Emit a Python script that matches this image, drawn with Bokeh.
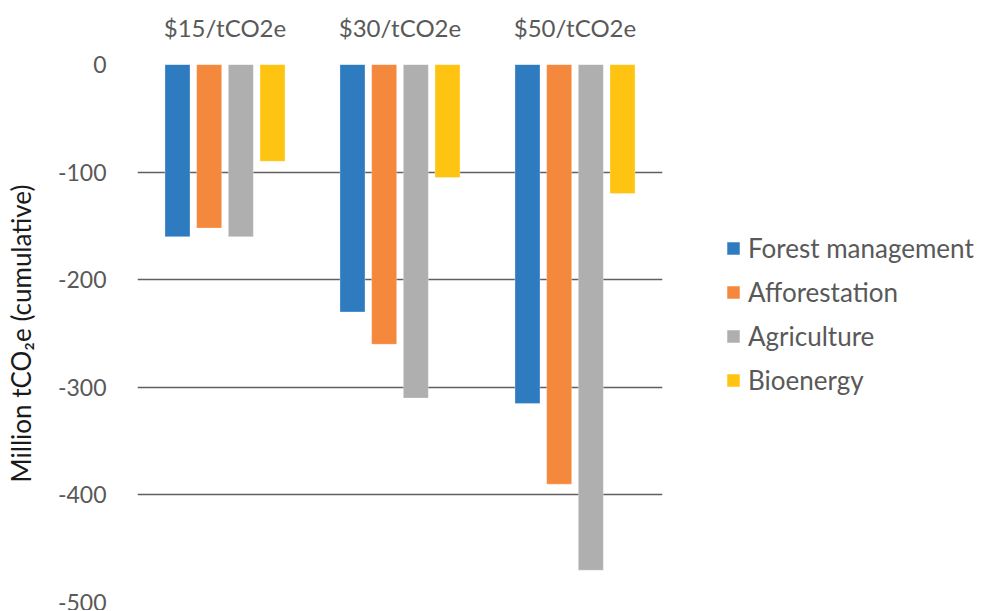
from bokeh.plotting import figure
from bokeh.models import Range1d, FactorRange, Legend, LegendItem, ColumnDataSource, CustomJSTickFormatter
from bokeh.transform import dodge
from bokeh.embed import file_html
from bokeh.resources import INLINE

categories = ["$15/tCO2e", "$30/tCO2e", "$50/tCO2e"]
series = ["Forest management", "Afforestation", "Agriculture", "Bioenergy"]
forest = [-160, -230, -315]
afforestation = [-152, -260, -390]
agriculture = [-160, -310, -470]
bioenergy = [-90, -105, -120]
y_ticks = [0, -100, -200, -300, -400, -500]

colors = ["#2E7BC0", "#F4883C", "#AFAFAF", "#FFC412"]
values = [forest, afforestation, agriculture, bioenergy]
offsets = [-0.2715, -0.0905, 0.0905, 0.2715]

FONT = "Lato"

p = figure(frame_width=525, frame_height=538, x_range=FactorRange(*categories, range_padding=0),
           y_range=Range1d(-500, 0), output_backend="svg", toolbar_location=None,
           x_axis_location="above", min_border_left=137, min_border_right=0,
           min_border_top=64, min_border_bottom=8)
p.outline_line_color = None
p.background_fill_color = "white"

renderers = []
for name, vals, col, off in zip(series, values, colors, offsets):
    src = ColumnDataSource(dict(cat=categories, val=vals))
    r = p.vbar(x=dodge("cat", off, range=p.x_range), top=0, bottom="val", width=0.143,
               source=src, fill_color=col, line_color="white", line_width=0.6, line_alpha=0.5)
    renderers.append(r)

p.xgrid.grid_line_color = None
p.ygrid.grid_line_color = "#606060"
p.ygrid.grid_line_width = 1.5
p.yaxis.ticker = y_ticks
p.yaxis.formatter = CustomJSTickFormatter(code="return tick.toString()")

for ax in [p.xaxis[0], p.yaxis[0]]:
    ax.axis_line_color = None
    ax.major_tick_line_color = None
    ax.minor_tick_line_color = None
    ax.major_label_text_font = FONT
    ax.major_label_text_color = "#595959"

p.xaxis.major_label_text_font_size = "24px"
p.yaxis.major_label_text_font_size = "23px"
p.xaxis.major_label_standoff = 17
p.yaxis.major_label_standoff = 25
p.yaxis.axis_label = "Million tCO\u2082e (cumulative)"
p.yaxis.axis_label_text_font = FONT
p.yaxis.axis_label_text_font_size = "26px"
p.yaxis.axis_label_text_font_style = "normal"
p.yaxis.axis_label_text_color = "#1a1a1a"
p.yaxis.axis_label_standoff = 18

legend = Legend(items=[LegendItem(label=n, renderers=[r]) for n, r in zip(series, renderers)],
                location=(63, 206))
legend.label_text_font = FONT
legend.label_text_font_size = "26px"
legend.label_text_color = "#595959"
legend.glyph_width = 16
legend.glyph_height = 16
legend.label_height = 30
legend.label_standoff = 7
legend.spacing = 12
legend.padding = 0
legend.margin = 0
legend.border_line_color = None
legend.background_fill_alpha = 0
p.add_layout(legend, "right")

open("out.html", "w").write(file_html(p, INLINE))
